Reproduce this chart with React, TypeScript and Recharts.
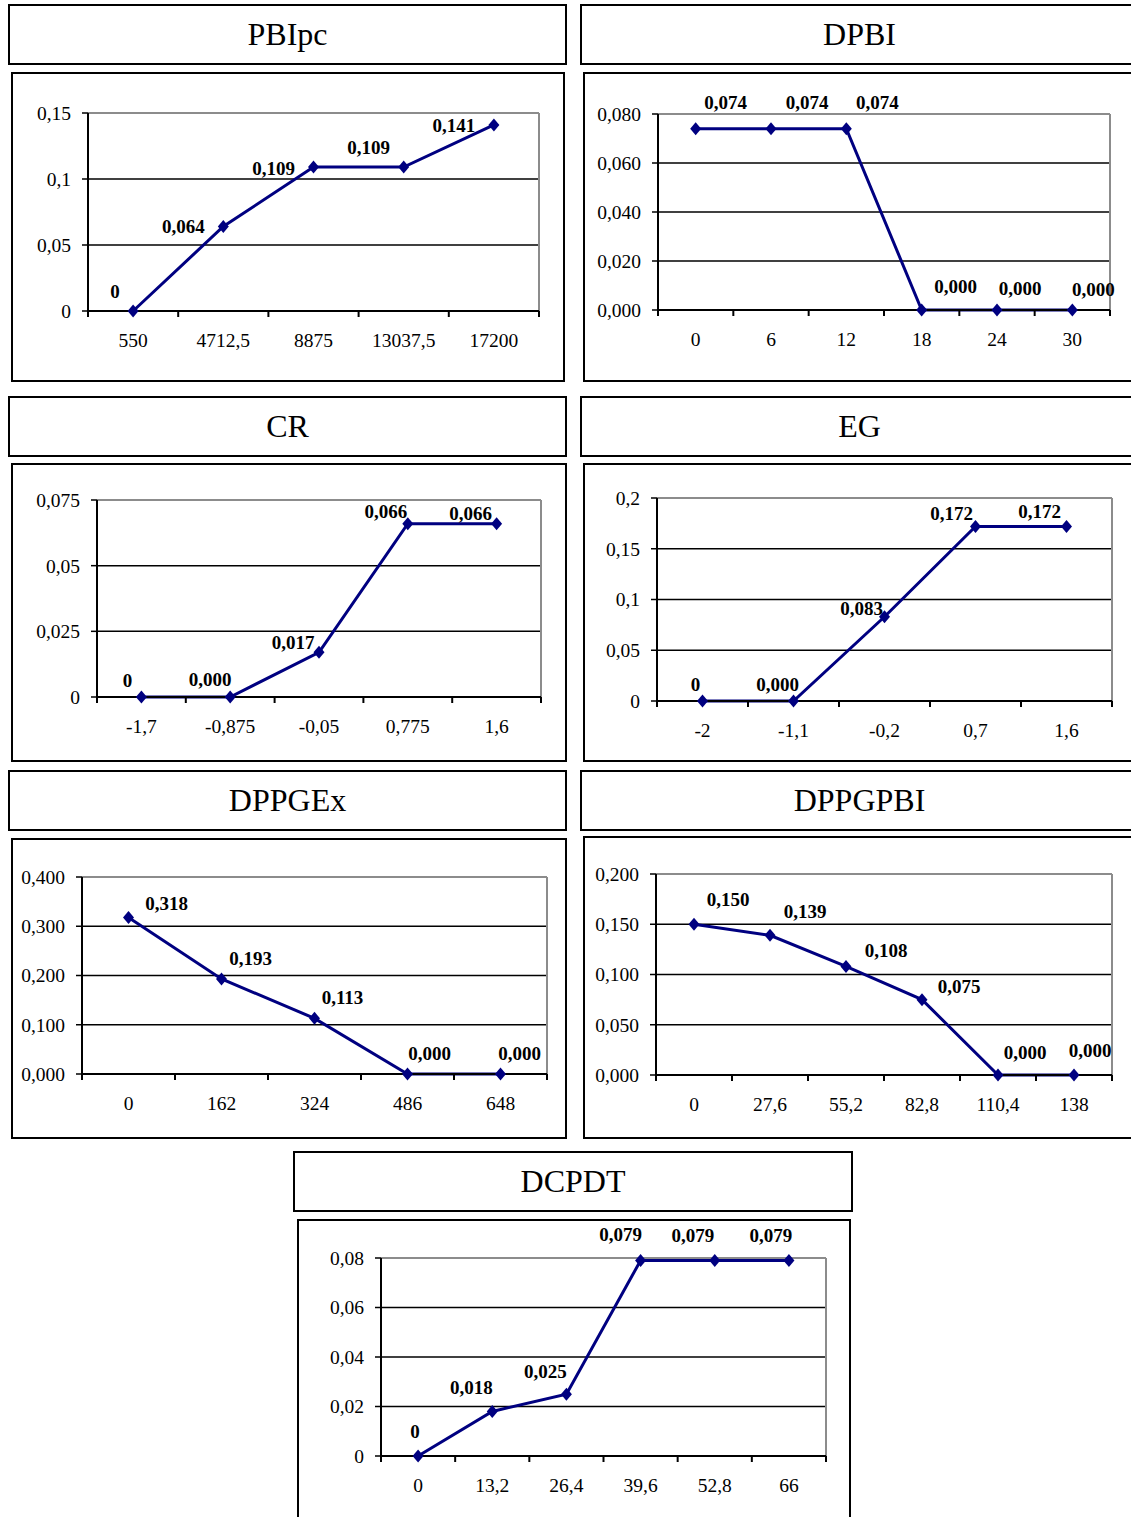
import React from "react";
import { CartesianGrid, Line, LineChart, ReferenceLine, XAxis, YAxis } from "recharts";

const SERIF = "'Liberation Serif', 'Times New Roman', serif";
const NAVY = "#000080";
const FRAME_GRAY = "#8c8c8c";

// PBIpc
const pbipcCategories = ["550", "4712,5", "8875", "13037,5", "17200"];
const pbipcValues = [0, 0.064, 0.109, 0.109, 0.141];
const pbipcLabels = ["0", "0,064", "0,109", "0,109", "0,141"];
const pbipcYTicks = [0, 0.05, 0.1, 0.15];
const pbipcYLabels = ["0", "0,05", "0,1", "0,15"];

// DPBI
const dpbiCategories = ["0", "6", "12", "18", "24", "30"];
const dpbiValues = [0.074, 0.074, 0.074, 0, 0, 0];
const dpbiLabels = ["0,074", "0,074", "0,074", "0,000", "0,000", "0,000"];
const dpbiYTicks = [0, 0.02, 0.04, 0.06, 0.08];
const dpbiYLabels = ["0,000", "0,020", "0,040", "0,060", "0,080"];

// CR
const crCategories = ["-1,7", "-0,875", "-0,05", "0,775", "1,6"];
const crValues = [0, 0, 0.017, 0.066, 0.066];
const crLabels = ["0", "0,000", "0,017", "0,066", "0,066"];
const crYTicks = [0, 0.025, 0.05, 0.075];
const crYLabels = ["0", "0,025", "0,05", "0,075"];

// EG
const egCategories = ["-2", "-1,1", "-0,2", "0,7", "1,6"];
const egValues = [0, 0, 0.083, 0.172, 0.172];
const egLabels = ["0", "0,000", "0,083", "0,172", "0,172"];
const egYTicks = [0, 0.05, 0.1, 0.15, 0.2];
const egYLabels = ["0", "0,05", "0,1", "0,15", "0,2"];

// DPPGEx
const dppgexCategories = ["0", "162", "324", "486", "648"];
const dppgexValues = [0.318, 0.193, 0.113, 0, 0];
const dppgexLabels = ["0,318", "0,193", "0,113", "0,000", "0,000"];
const dppgexYTicks = [0, 0.1, 0.2, 0.3, 0.4];
const dppgexYLabels = ["0,000", "0,100", "0,200", "0,300", "0,400"];

// DPPGPBI
const dppgpbiCategories = ["0", "27,6", "55,2", "82,8", "110,4", "138"];
const dppgpbiValues = [0.15, 0.139, 0.108, 0.075, 0, 0];
const dppgpbiLabels = ["0,150", "0,139", "0,108", "0,075", "0,000", "0,000"];
const dppgpbiYTicks = [0, 0.05, 0.1, 0.15, 0.2];
const dppgpbiYLabels = ["0,000", "0,050", "0,100", "0,150", "0,200"];

// DCPDT
const dcpdtCategories = ["0", "13,2", "26,4", "39,6", "52,8", "66"];
const dcpdtValues = [0, 0.018, 0.025, 0.079, 0.079, 0.079];
const dcpdtLabels = ["0", "0,018", "0,025", "0,079", "0,079", "0,079"];
const dcpdtYTicks = [0, 0.02, 0.04, 0.06, 0.08];
const dcpdtYLabels = ["0", "0,02", "0,04", "0,06", "0,08"];

type Rect = { x: number; y: number; w: number; h: number };
type Plot = { left: number; top: number; right: number; bottom: number };

interface PanelSpec {
  title: string;
  categories: string[];
  values: number[];
  labels: string[];
  yTicks: number[];
  yLabels: string[];
  titleBox: Rect;
  box: Rect;
  plot: Plot;
  // label placement relative to each marker
  offsets: [number, number][];
}

const panels: PanelSpec[] = [
  {
    title: "PBIpc",
    categories: pbipcCategories,
    values: pbipcValues,
    labels: pbipcLabels,
    yTicks: pbipcYTicks,
    yLabels: pbipcYLabels,
    titleBox: { x: 8, y: 4, w: 559, h: 61 },
    box: { x: 11, y: 72, w: 554, h: 310 },
    plot: { left: 88, top: 113, right: 539, bottom: 311 },
    offsets: [[-18, -20], [-40, 0], [-40, 1], [-35, -20], [-40, 1]],
  },
  {
    title: "DPBI",
    categories: dpbiCategories,
    values: dpbiValues,
    labels: dpbiLabels,
    yTicks: dpbiYTicks,
    yLabels: dpbiYLabels,
    titleBox: { x: 580, y: 4, w: 559, h: 61 },
    box: { x: 583, y: 72, w: 570, h: 310 },
    plot: { left: 658, top: 114, right: 1110, bottom: 310 },
    offsets: [[30, -26], [36, -26], [31, -26], [34, -24], [23, -22], [21, -21]],
  },
  {
    title: "CR",
    categories: crCategories,
    values: crValues,
    labels: crLabels,
    yTicks: crYTicks,
    yLabels: crYLabels,
    titleBox: { x: 8, y: 396, w: 559, h: 61 },
    box: { x: 11, y: 463, w: 556, h: 299 },
    plot: { left: 97, top: 500, right: 541, bottom: 697 },
    offsets: [[-14, -17], [-20, -18], [-26, -10], [-22, -12], [-26, -10]],
  },
  {
    title: "EG",
    categories: egCategories,
    values: egValues,
    labels: egLabels,
    yTicks: egYTicks,
    yLabels: egYLabels,
    titleBox: { x: 580, y: 396, w: 559, h: 61 },
    box: { x: 583, y: 463, w: 570, h: 299 },
    plot: { left: 657, top: 498, right: 1112, bottom: 701 },
    offsets: [[-7, -17], [-16, -17], [-23, -8], [-24, -13], [-27, -15]],
  },
  {
    title: "DPPGEx",
    categories: dppgexCategories,
    values: dppgexValues,
    labels: dppgexLabels,
    yTicks: dppgexYTicks,
    yLabels: dppgexYLabels,
    titleBox: { x: 8, y: 770, w: 559, h: 61 },
    box: { x: 11, y: 838, w: 556, h: 301 },
    plot: { left: 82, top: 877, right: 547, bottom: 1074 },
    offsets: [[38, -14], [29, -20], [28, -21], [22, -21], [19, -21]],
  },
  {
    title: "DPPGPBI",
    categories: dppgpbiCategories,
    values: dppgpbiValues,
    labels: dppgpbiLabels,
    yTicks: dppgpbiYTicks,
    yLabels: dppgpbiYLabels,
    titleBox: { x: 580, y: 770, w: 559, h: 61 },
    box: { x: 583, y: 836, w: 570, h: 303 },
    plot: { left: 656, top: 874, right: 1112, bottom: 1075 },
    offsets: [[34, -25], [35, -24], [40, -16], [37, -13], [27, -23], [16, -25]],
  },
  {
    title: "DCPDT",
    categories: dcpdtCategories,
    values: dcpdtValues,
    labels: dcpdtLabels,
    yTicks: dcpdtYTicks,
    yLabels: dcpdtYLabels,
    titleBox: { x: 293, y: 1151, w: 560, h: 61 },
    box: { x: 297, y: 1219, w: 554, h: 310 },
    plot: { left: 381, top: 1258, right: 826, bottom: 1456 },
    offsets: [[-3, -25], [-21, -24], [-21, -23], [-20, -26], [-22, -25], [-18, -25]],
  },
];

const Y_AXIS_W = 60;
const X_AXIS_H = 40;
const TICK_FONT = 19.5;
const LABEL_FONT = 19;

function Panel({ spec }: { spec: PanelSpec }) {
  const { title, categories, values, labels, yTicks, yLabels, titleBox, box, plot, offsets } = spec;
  const n = categories.length;
  const innerLeft = box.x + 2;
  const innerTop = box.y + 2;
  const innerW = box.w - 4;
  const innerH = box.h - 4;
  const margin = {
    top: plot.top - innerTop,
    left: plot.left - innerLeft - Y_AXIS_W,
    right: innerLeft + innerW - plot.right,
    bottom: innerTop + innerH - plot.bottom - X_AXIS_H,
  };
  const band = (plot.right - plot.left) / n;
  const yMax = yTicks[yTicks.length - 1];

  const data = values.map((v, i) => ({ i, v }));
  // x ticks sit on category boundaries, labels go in the middle of each band
  const boundaries = categories.map((_, k) => k - 0.5).concat(n - 0.5);

  const XTick = (props: any) => {
    const { x, y, payload } = props;
    const idx = payload.value + 0.5;
    if (idx >= n) return <g />;
    return (
      <text x={x + band / 2} y={y} dy="0.71em" textAnchor="middle" fontFamily={SERIF} fontSize={TICK_FONT} fill="#000">
        {categories[idx]}
      </text>
    );
  };

  const renderDot = (props: any) => {
    const { cx, cy, index } = props;
    const [dx, dy] = offsets[index];
    const sx = 5.5;
    const sy = 6.5;
    return (
      <g key={`pt-${index}`}>
        <polygon points={`${cx},${cy - sy} ${cx + sx},${cy} ${cx},${cy + sy} ${cx - sx},${cy}`} fill={NAVY} />
        <text
          x={cx + dx}
          y={cy + dy}
          textAnchor="middle"
          dominantBaseline="central"
          fontFamily={SERIF}
          fontWeight="bold"
          fontSize={LABEL_FONT}
          fill="#000"
        >
          {labels[index]}
        </text>
      </g>
    );
  };

  return (
    <>
      <div
        style={{
          position: "absolute",
          left: titleBox.x,
          top: titleBox.y,
          width: titleBox.w,
          height: titleBox.h,
          boxSizing: "border-box",
          border: "2px solid #000",
          display: "flex",
          alignItems: "center",
          justifyContent: "center",
          fontFamily: SERIF,
          fontSize: 32,
          color: "#000",
        }}
      >
        {title}
      </div>
      <div
        style={{
          position: "absolute",
          left: box.x,
          top: box.y,
          width: box.w,
          height: box.h,
          boxSizing: "border-box",
          border: "2px solid #000",
        }}
      >
        <LineChart width={innerW} height={innerH} data={data} margin={margin}>
          <CartesianGrid vertical={false} stroke="#000" strokeWidth={1.5} />
          <XAxis
            type="number"
            dataKey="i"
            domain={[-0.5, n - 0.5]}
            ticks={boundaries}
            interval={0}
            tick={XTick}
            tickSize={6}
            tickMargin={16}
            height={X_AXIS_H}
            axisLine={{ stroke: "#000", strokeWidth: 2 }}
            tickLine={{ stroke: "#000", strokeWidth: 2 }}
          />
          <YAxis
            type="number"
            domain={[0, yMax]}
            ticks={yTicks}
            interval={0}
            width={Y_AXIS_W}
            tickSize={6}
            tickMargin={11}
            tickFormatter={(v: number) => yLabels[yTicks.indexOf(v)]}
            tick={{ fill: "#000", fontSize: TICK_FONT, fontFamily: SERIF }}
            axisLine={{ stroke: "#000", strokeWidth: 2 }}
            tickLine={{ stroke: "#000", strokeWidth: 1.5 }}
          />
          <ReferenceLine y={yMax} stroke={FRAME_GRAY} strokeWidth={2} />
          <ReferenceLine x={n - 0.5} stroke={FRAME_GRAY} strokeWidth={2} />
          <Line
            type="linear"
            dataKey="v"
            stroke={NAVY}
            strokeWidth={3}
            dot={renderDot}
            activeDot={false}
            isAnimationActive={false}
          />
        </LineChart>
      </div>
    </>
  );
}

export default function App() {
  return (
    <div
      style={{
        position: "absolute",
        left: 0,
        top: 0,
        width: 1131,
        height: 1517,
        overflow: "hidden",
        background: "#fff",
      }}
    >
      {panels.map((p) => (
        <Panel key={p.title} spec={p} />
      ))}
    </div>
  );
}
